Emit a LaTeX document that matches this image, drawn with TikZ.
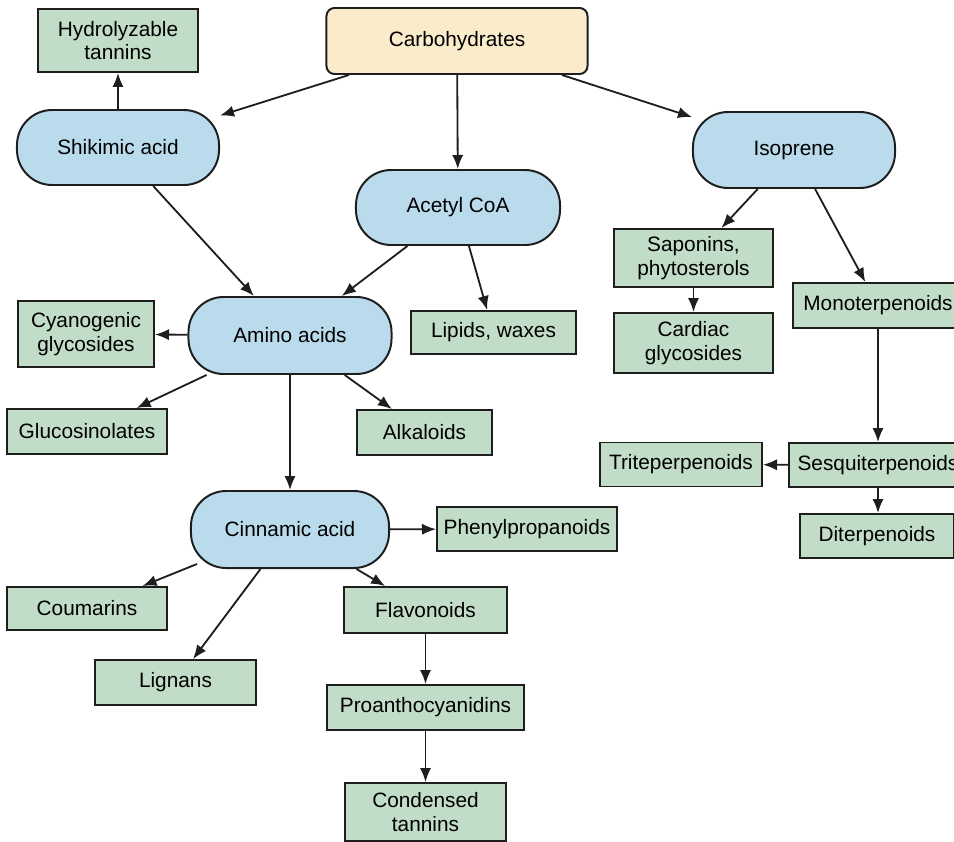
\documentclass[tikz,border=0pt]{standalone}
\usepackage{fontspec}
\setmainfont{Liberation Sans}
\usepackage{xcolor}
\definecolor{SourceYellow}{RGB}{250,235,203}
\definecolor{PathBlue}{RGB}{186,219,236}
\definecolor{ClassGreen}{RGB}{193,220,199}
\definecolor{EdgeGray}{RGB}{30,30,30}
\usetikzlibrary{arrows.meta, positioning}

\begin{document}
\begin{tikzpicture}[x=0.025cm, y=-0.025cm,
    font=\fontsize{14.8}{16.8}\selectfont]
    \tikzset{
        sourcebox/.style={rectangle, rounded corners=0.2cm, draw=EdgeGray,
            line width=1.4pt, fill=SourceYellow, inner sep=0pt, align=center},
        pathbox/.style={rectangle, rounded corners=0.88cm, draw=EdgeGray,
            line width=1.4pt, fill=PathBlue, inner sep=0pt, align=center},
        classbox/.style={rectangle, draw=EdgeGray, line width=1.4pt,
            fill=ClassGreen, inner sep=0pt, align=center},
        flow/.style={line width=1.3pt, draw=EdgeGray,
            -{Latex[length=3.5mm, width=2.8mm]}}
    }
    \useasboundingbox (0,0) rectangle (954,842);
    \clip (0,0) rectangle (954,842);
    % top level
    \node[sourcebox, minimum width=6.525cm, minimum height=1.65cm] (carb) at (457,41) {Carbohydrates};
    \node[pathbox, minimum width=5.05cm, minimum height=1.875cm] (shik) at (118,147.5) {Shikimic acid};
    \node[pathbox, minimum width=5.1cm, minimum height=1.875cm] (acetyl) at (458,207.5) {Acetyl CoA};
    \node[pathbox, minimum width=5.05cm, minimum height=1.9cm] (isop) at (794,150) {Isoprene};
    \node[classbox, minimum width=4cm, minimum height=1.575cm] (hydro) at (118,40.5) {Hydrolyzable\\tannins};
    % isoprene branch
    \node[classbox, minimum width=3.975cm, minimum height=1.45cm] (sapon) at (693.5,258) {Saponins,\\phytosterols};
    \node[classbox, minimum width=3.975cm, minimum height=1.5cm] (cardiac) at (693.5,343) {Cardiac\\glycosides};
    \node[classbox, minimum width=4.25cm, minimum height=1.125cm] (mono) at (878,305.5) {Monoterpenoids};
    \node[classbox, minimum width=4.45cm, minimum height=1.1cm] (sesq) at (878,465) {Sesquiterpenoids};
    \node[classbox, minimum width=4.05cm, minimum height=1.1cm] (trite) at (681,464.5) {Triteperpenoids};
    \node[classbox, minimum width=3.85cm, minimum height=1.1cm] (diter) at (877,536) {Diterpenoids};
    % amino acid branch
    \node[pathbox, minimum width=5.075cm, minimum height=1.925cm] (amino) at (290,335.5) {Amino acids};
    \node[classbox, minimum width=3.4cm, minimum height=1.65cm] (cyano) at (86,334) {Cyanogenic\\glycosides};
    \node[classbox, minimum width=4.125cm, minimum height=1.075cm] (lipid) at (493.5,332.5) {Lipids, waxes};
    \node[classbox, minimum width=4cm, minimum height=1.125cm] (gluco) at (87,431.5) {Glucosinolates};
    \node[classbox, minimum width=3.375cm, minimum height=1.125cm] (alka) at (424.5,432.5) {Alkaloids};
    % cinnamic acid branch
    \node[pathbox, minimum width=4.95cm, minimum height=1.925cm] (cinn) at (290,529.5) {Cinnamic acid};
    \node[classbox, minimum width=4.5cm, minimum height=1.1cm] (phenyl) at (527,529) {Phenylpropanoids};
    \node[classbox, minimum width=4cm, minimum height=1.075cm] (coum) at (87,608.5) {Coumarins};
    \node[classbox, minimum width=4.05cm, minimum height=1.15cm] (flav) at (425.5,610) {Flavonoids};
    \node[classbox, minimum width=4.025cm, minimum height=1.125cm] (lign) at (175.5,682.5) {Lignans};
    \node[classbox, minimum width=4.9cm, minimum height=1.125cm] (proan) at (425.5,707.5) {Proanthocyanidins};
    \node[classbox, minimum width=4.025cm, minimum height=1.45cm] (cond) at (425.5,812) {Condensed\\tannins};
    % connectors
    \draw[flow] (carb) -- (shik);
    \draw[flow] (carb) -- (acetyl);
    \draw[flow] (carb) -- (isop);
    \draw[flow] (shik) -- (hydro);
    \draw[flow] (shik) -- (amino);
    \draw[flow] (acetyl) -- (amino);
    \draw[flow] (acetyl) -- (lipid);
    \draw[flow] (isop) -- (sapon);
    \draw[flow] (isop) -- (mono);
    \draw[flow] (sapon) -- (cardiac);
    \draw[flow] (mono) -- (sesq);
    \draw[flow] (sesq) -- (trite);
    \draw[flow] (sesq.south) -- (sesq.south |- diter.north);
    \draw[flow] (amino) -- (cyano);
    \draw[flow] (amino) -- (gluco);
    \draw[flow] (amino) -- (alka);
    \draw[flow] (amino) -- (cinn);
    \draw[flow] (cinn) -- (phenyl);
    \draw[flow] ([shift={(7,-5)}]cinn.south west) -- (coum);
    \draw[flow] (cinn) -- (lign);
    \draw[flow] (cinn) -- (flav);
    \draw[flow] (flav) -- (proan);
    \draw[flow] (proan) -- (cond);
\end{tikzpicture}
\end{document}
